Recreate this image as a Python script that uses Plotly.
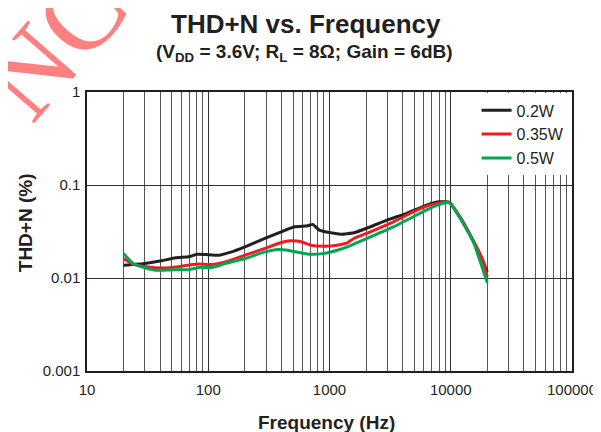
import plotly.graph_objects as go

# ---- data ----
freq_02 = [20, 30, 40, 54, 69, 81, 95, 122, 156, 201, 293, 400, 515, 661, 727, 824,
           1025, 1237, 1591, 2173, 2974, 4334, 6310, 8106, 9775, 11800, 15170, 18320, 20000]
thdn_02 = [0.0137, 0.0143, 0.0152, 0.0165, 0.0169, 0.0180, 0.0179, 0.0176, 0.0191, 0.0216,
           0.0266, 0.0314, 0.0355, 0.0364, 0.0377, 0.0327, 0.0306, 0.0296, 0.0306, 0.0355,
           0.0419, 0.0495, 0.0608, 0.0660, 0.0650, 0.0455, 0.0255, 0.0156, 0.0116]

freq_035 = [20, 24, 31, 42, 57, 74, 84, 107, 138, 201, 293, 400, 483, 583, 703, 905,
            1162, 1237, 1402, 1591, 2173, 3373, 4913, 6714, 8635, 9775, 11800, 15170, 18320, 20000]
thdn_035 = [0.0162, 0.0141, 0.0132, 0.0128, 0.0132, 0.0140, 0.0141, 0.0140, 0.0149, 0.0176,
            0.0208, 0.0241, 0.0251, 0.0245, 0.0225, 0.0220, 0.0225, 0.0229, 0.0239, 0.0266,
            0.0314, 0.0402, 0.0515, 0.0608, 0.0650, 0.0645, 0.0465, 0.0260, 0.0157, 0.0103]

freq_05 = [20, 24, 31, 37, 51, 69, 84, 107, 138, 201, 293, 377, 454, 583, 703, 905,
           1162, 1402, 2173, 3373, 4913, 6714, 8635, 9775, 11800, 15170, 20000]
thdn_05 = [0.0184, 0.0143, 0.0127, 0.0121, 0.0123, 0.0123, 0.0130, 0.0130, 0.0143, 0.0162,
           0.0191, 0.0203, 0.0199, 0.0186, 0.0180, 0.0184, 0.0199, 0.0216, 0.0277, 0.0355,
           0.0455, 0.0560, 0.0634, 0.0643, 0.0455, 0.0255, 0.0089]

series_names = ["0.2W", "0.35W", "0.5W"]
series_colors = ["#231f20", "#ed1c24", "#00a651"]

x_tickvals = [10, 100, 1000, 10000, 100000]
x_ticktext = ["10", "100", "1000", "10000", "100000"]
y_tickvals = [0.001, 0.01, 0.1, 1]
y_ticktext = ["0.001", "0.01", "0.1", "1"]
x_minor = [m * d for d in (10, 100, 1000, 10000) for m in range(2, 10)]

FONT = "Liberation Sans, Arial, sans-serif"
TXT = "#231f20"

fig = go.Figure()
for f, v, name, col in zip([freq_02, freq_035, freq_05], [thdn_02, thdn_035, thdn_05],
                           series_names, series_colors):
    fig.add_trace(go.Scatter(x=f, y=v, mode="lines", name=name,
                             line=dict(color=col, width=3, shape="spline", smoothing=0.4)))

# the page body adds an 8px offset, so margins are shifted up/left by 8px
fig.update_layout(
    width=601, height=432,
    margin=dict(l=79, r=32, t=84, b=69),
    paper_bgcolor="white", plot_bgcolor="white",
    font=dict(family=FONT, color=TXT, size=15),
    showlegend=True,
    legend=dict(x=0.995, xanchor="right", y=0.995, yanchor="top",
                bgcolor="white", borderwidth=0, font=dict(size=16, color=TXT),
                itemwidth=30, tracegroupgap=0),
    xaxis=dict(type="log", range=[1, 5], tickvals=x_tickvals, ticktext=x_ticktext,
               showgrid=True, gridcolor="#333333", gridwidth=1.2,
               minor=dict(tickvals=x_minor, showgrid=True, gridcolor="#555555", gridwidth=1),
               showline=True, linecolor="#231f20", linewidth=1.5, mirror=True,
               ticks="", ticklabelstandoff=4, tickfont=dict(size=15, color=TXT), zeroline=False),
    yaxis=dict(type="log", range=[-3, 0], tickvals=y_tickvals, ticktext=y_ticktext,
               showgrid=True, gridcolor="#333333", gridwidth=1.2,
               showline=True, linecolor="#231f20", linewidth=1.5, mirror=True,
               ticks="", ticklabelstandoff=2, tickfont=dict(size=15, color=TXT), zeroline=False),
)

annos = [
    dict(text="<b>THD+N vs. Frequency</b>", x=0.452, y=1.242, size=26),
    dict(text="<b>(V<sub>DD</sub> = 3.6V; R<sub>L</sub> = 8Ω; Gain = 6dB)</b>", x=0.448, y=1.138, size=19),
    dict(text="<b>Frequency (Hz)</b>", x=0.494, y=-0.183, size=19),
]
for a in annos:
    fig.add_annotation(text=a["text"], x=a["x"], y=a["y"], xref="paper", yref="paper",
                       showarrow=False, xanchor="center", yanchor="middle",
                       font=dict(size=a["size"], family=FONT, color=TXT))
fig.add_annotation(text="<b>THD+N (%)</b>", x=-0.1265, y=0.532, xref="paper", yref="paper",
                   showarrow=False, textangle=-90, xanchor="center", yanchor="middle",
                   font=dict(size=19, family=FONT, color=TXT))
# red watermark
fig.add_annotation(text="NC", x=-0.068, y=1.172, xref="paper", yref="paper",
                   showarrow=False, textangle=-49, xanchor="center", yanchor="middle",
                   font=dict(size=110, family="Liberation Serif, Times New Roman, serif",
                             color="#ff8080"))

fig.write_html("out.html")
